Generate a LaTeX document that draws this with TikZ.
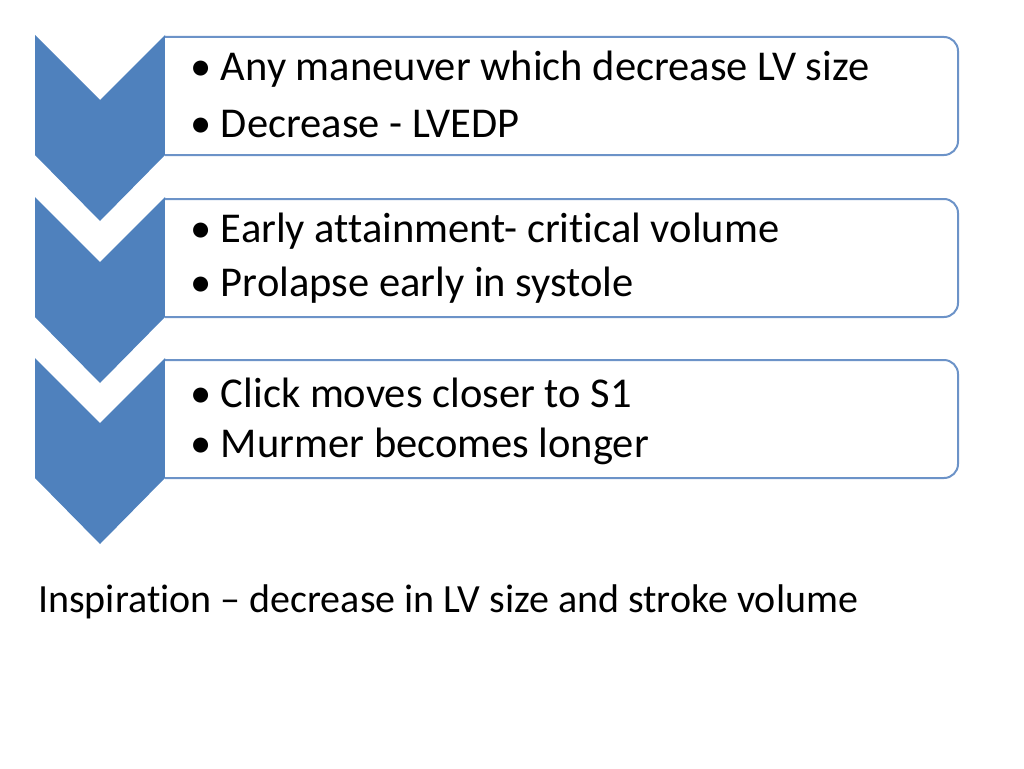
\documentclass[tikz,border=0pt]{standalone}
\usepackage{fontspec}
\setmainfont[Ligatures={NoCommon}]{Carlito}
\begin{document}
\begin{tikzpicture}[x=1pt,y=-1pt,
 chev/.style={fill=chevblue,draw=none},
 box/.style={draw=boxline,line width=2pt,fill=white,rounded corners=14pt},
 txt/.style={anchor=west,font=\fontsize{42.5}{48}\selectfont,inner sep=0pt},
 foot/.style={anchor=west,font=\fontsize{40}{46}\selectfont,inner sep=0pt}]
\definecolor{chevblue}{HTML}{4F81BD}
\definecolor{boxline}{HTML}{6C93C8}
\useasboundingbox (0,0) rectangle (1024,768);
\foreach \t/\n in {35/a,197/b,358/c}{
 \fill[chev] (35,\t) -- (100,\t+65) -- (165,\t) -- (165,\t+120) -- (100,\t+186) -- (35,\t+120) -- cycle;
 \draw[box] (165,\t+2) -- (958,\t+2) -- (958,\t+120) -- (165,\t+120);
}
\node[txt] (a1) at (190,69) {\textbullet\ Any maneuver which decrease LV size};
\node[txt] (a2) at (190,124) {\textbullet\ Decrease - LVEDP};
\node[txt] (b1) at (190,231) {\textbullet\ Early attainment- critical volume};
\node[txt] (b2) at (190,285) {\textbullet\ Prolapse early in systole};
\node[txt] (c1) at (190,393) {\textbullet\ Click moves closer to S1};
\node[txt] (c2) at (190,446) {\textbullet\ Murmer becomes longer};
\node[foot] (d) at (38,602) {Inspiration -- decrease in LV size and stroke volume};
\end{tikzpicture}
\end{document}
